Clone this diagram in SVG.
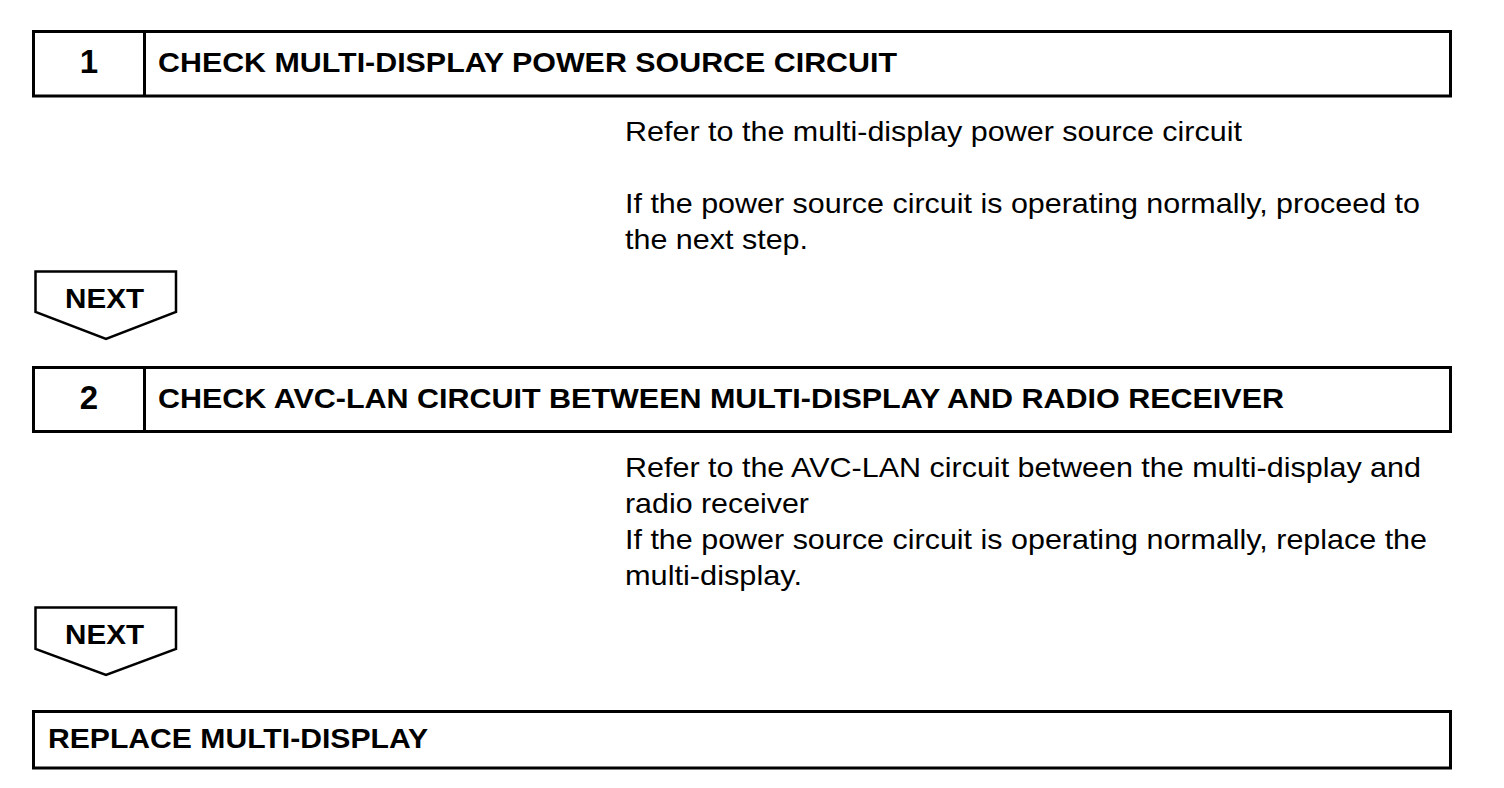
<svg xmlns="http://www.w3.org/2000/svg" width="1504" height="788" viewBox="0 0 1504 788">
<style>
.box{fill:#fff;stroke:#000;stroke-width:3}
.arrow{fill:#fff;stroke:#000;stroke-width:2.5;stroke-linejoin:miter}
.h{font-family:"Liberation Sans",Arial,sans-serif;font-weight:bold;font-size:28px;fill:#000}
.num{font-family:"Liberation Sans",Arial,sans-serif;font-weight:bold;font-size:33px;fill:#000;text-anchor:middle}
.b{font-family:"Liberation Sans",Arial,sans-serif;font-size:28px;fill:#000}
</style>
<rect width="1504" height="788" fill="#fff"/>
<g id="step1">
<rect class="box" x="33.5" y="31.5" width="1417" height="64.5"/>
<line x1="144.5" y1="31.5" x2="144.5" y2="96" stroke="#000" stroke-width="3"/>
<text class="num" x="89" y="73">1</text>
<text class="h" x="158" y="72" textLength="739" lengthAdjust="spacingAndGlyphs">CHECK MULTI-DISPLAY POWER SOURCE CIRCUIT</text>
</g>
<g id="note1">
<text class="b" x="625" y="141" textLength="617" lengthAdjust="spacingAndGlyphs">Refer to the multi-display power source circuit</text>
<text class="b" x="625" y="213" textLength="795" lengthAdjust="spacingAndGlyphs">If the power source circuit is operating normally, proceed to</text>
<text class="b" x="625" y="249" textLength="183" lengthAdjust="spacingAndGlyphs">the next step.</text>
</g>
<g id="connectors">
<g id="next1">
<polygon class="arrow" points="35.5,271.5 176,271.5 176,312 106,339 35.5,312"/>
<text class="h" x="65" y="308" textLength="79" lengthAdjust="spacingAndGlyphs">NEXT</text>
</g>
<g id="next2">
<polygon class="arrow" points="35.5,607.5 176,607.5 176,649 106,675 35.5,649"/>
<text class="h" x="65" y="644" textLength="79" lengthAdjust="spacingAndGlyphs">NEXT</text>
</g>
</g>
<g id="step2">
<rect class="box" x="33.5" y="367.5" width="1417" height="64"/>
<line x1="144.5" y1="367.5" x2="144.5" y2="431.5" stroke="#000" stroke-width="3"/>
<text class="num" x="89" y="409">2</text>
<text class="h" x="158" y="408" textLength="1126" lengthAdjust="spacingAndGlyphs">CHECK AVC-LAN CIRCUIT BETWEEN MULTI-DISPLAY AND RADIO RECEIVER</text>
</g>
<g id="note2">
<text class="b" x="625" y="477" textLength="796" lengthAdjust="spacingAndGlyphs">Refer to the AVC-LAN circuit between the multi-display and</text>
<text class="b" x="625" y="513" textLength="184" lengthAdjust="spacingAndGlyphs">radio receiver</text>
<text class="b" x="625" y="549" textLength="802" lengthAdjust="spacingAndGlyphs">If the power source circuit is operating normally, replace the</text>
<text class="b" x="625" y="585" textLength="177" lengthAdjust="spacingAndGlyphs">multi-display.</text>
</g>
<g id="final">
<rect class="box" x="33.5" y="711.5" width="1417" height="56.5"/>
<text class="h" x="48" y="748" textLength="380" lengthAdjust="spacingAndGlyphs">REPLACE MULTI-DISPLAY</text>
</g>
</svg>
